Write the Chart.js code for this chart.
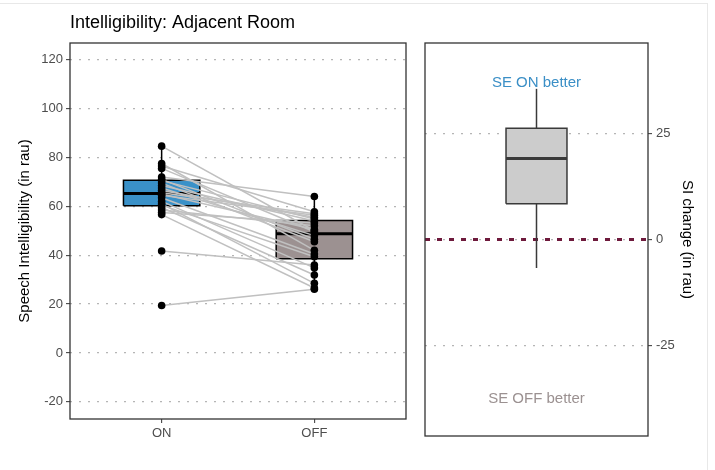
<!DOCTYPE html>
<html>
<head>
<meta charset="utf-8">
<script src="https://cdn.jsdelivr.net/npm/chart.js@4.4.1/dist/chart.umd.min.js"></script>
<style>
  body { margin: 0; background: #fff; }
  #page { position: relative; width: 715px; height: 470px; overflow: hidden; }
  #edge { position: absolute; left: 0; top: 3px; width: 707px; height: 470px; border-top: 1px solid #e8e8e8; border-right: 1px solid #e8e8e8; }
  #left { position: absolute; left: 0; top: 0; width: 412px; height: 470px; }
  #right { position: absolute; left: 412px; top: 0; width: 303px; height: 470px; }
</style>
</head>
<body>
<div id="page">
  <div id="edge"></div>
  <div id="left"><canvas id="c1"></canvas></div>
  <div id="right"><canvas id="c2"></canvas></div>
</div>
<script>
// conditions on the x axis
const groups = ['ON', 'OFF'];
// speech intelligibility per listener (rau), paired by index
const siOn  = [84.6, 77.5, 76.5, 75.5, 72, 71, 70.5, 69.5, 68.5, 67.5, 66.5, 65.5, 65, 64.5, 63.5, 62, 61, 60.5, 59.5, 58.5, 57.5, 56.6, 41.7, 19.4];
const siOff = [50, 42, 57.8, 49.6, 64, 46.5, 54.8, 45.5, 54, 48.0, 55.5, 57, 50.5, 56.3, 40.5, 34.8, 28.5, 39.4, 31.9, 52, 53.2, 26.6, 36, 26.1];
// tick values
const leftTicks = [-20, 0, 20, 40, 60, 80, 100, 120];
const rightTicks = [-25, 0, 25];
// labels inside the right panel
const noteText = ['SE ON better', 'SE OFF better'];
const noteY = [37, -37.5];
const noteColor = ['#3b8fc6', '#9b9191'];

const boxColors = ['#3a91c8', '#9c9191'];
const FONT = '"Liberation Sans", Arial, sans-serif';

function quantile(arr, p) {
  const s = [...arr].sort((a, b) => a - b);
  const h = (s.length - 1) * p;
  const lo = Math.floor(h);
  return s[lo] + (h - lo) * ((s[lo + 1] !== undefined ? s[lo + 1] : s[lo]) - s[lo]);
}
function boxStats(arr) {
  const q1 = quantile(arr, 0.25), med = quantile(arr, 0.5), q3 = quantile(arr, 0.75);
  const iqr = q3 - q1;
  const inside = arr.filter(v => v >= q1 - 1.5 * iqr && v <= q3 + 1.5 * iqr);
  return { q1, med, q3, lo: Math.min(...inside), hi: Math.max(...inside) };
}

// build boxplot datasets (fill, outline, median, whiskers)
function boxDatasets(stats, xc, half, fillColor, lineColor, lw) {
  const x0 = xc - half, x1 = xc + half;
  const base = { type: 'line', showLine: true, pointRadius: 0, tension: 0 };
  return [
    { ...base, data: [{x: x0, y: stats.q3}, {x: x1, y: stats.q3}], borderWidth: 0, borderColor: 'transparent',
      backgroundColor: fillColor, fill: {value: stats.q1}, order: 9 },
    { ...base, data: [{x: xc, y: stats.q3}, {x: xc, y: stats.hi}], borderColor: lineColor, borderWidth: lw, fill: false, order: 8 },
    { ...base, data: [{x: xc, y: stats.q1}, {x: xc, y: stats.lo}], borderColor: lineColor, borderWidth: lw, fill: false, order: 8 },
    { ...base, data: [{x: x0, y: stats.q1}, {x: x0, y: stats.q3}, {x: x1, y: stats.q3}, {x: x1, y: stats.q1}, {x: x0, y: stats.q1}],
      borderColor: lineColor, borderWidth: lw, fill: false, order: 7 },
    { ...base, data: [{x: x0, y: stats.med}, {x: x1, y: stats.med}], borderColor: lineColor, borderWidth: 3, fill: false, order: 6 }
  ];
}

const framePlugin = {
  id: 'frame',
  afterDraw(chart) {
    const a = chart.chartArea, ctx = chart.ctx;
    ctx.save();
    ctx.strokeStyle = '#333';
    ctx.lineWidth = 1.3;
    ctx.strokeRect(a.left, a.top, a.right - a.left, a.bottom - a.top);
    ctx.restore();
  }
};

const tickFont = { family: FONT, size: 13 };
const gridStyle = { color: '#b5b5b5', lineWidth: 1.3, tickColor: '#333', tickLength: 4, tickWidth: 1, tickBorderDash: [] };
const dotted = { display: false, dash: [2, 7] };

// ---------- left panel ----------
const onStats = boxStats(siOn), offStats = boxStats(siOff);
const leftSets = [
  ...boxDatasets(onStats, 1, 0.25, boxColors[0], '#000', 1.5),
  ...boxDatasets(offStats, 2, 0.25, boxColors[1], '#000', 1.5)
];
siOn.forEach((v, i) => {
  leftSets.push({ type: 'line', showLine: true, data: [{x: 1, y: v}, {x: 2, y: siOff[i]}], borderColor: '#c0c0c0',
    borderWidth: 1.5, pointRadius: 0, fill: false, order: 3 });
});
leftSets.push({ type: 'scatter', data: siOn.map(v => ({x: 1, y: v})).concat(siOff.map(v => ({x: 2, y: v}))),
  pointRadius: 3.8, pointBackgroundColor: '#000', pointBorderWidth: 0, order: 1 });

new Chart(document.getElementById('c1'), {
  type: 'scatter',
  data: { datasets: leftSets },
  options: {
    responsive: true, maintainAspectRatio: false, animation: false,
    layout: { padding: { top: 5, left: 0, right: 6, bottom: 0 } },
    plugins: {
      legend: { display: false }, tooltip: { enabled: false },
      title: { display: true, text: 'Intelligibility: Adjacent Room', align: 'start', fullSize: false, color: '#000',
        font: { family: FONT, size: 18, weight: 'normal' }, padding: { top: 7, bottom: 9.4 } }
    },
    scales: {
      x: {
        type: 'linear', min: 0.4, max: 2.6,
        afterBuildTicks: s => { s.ticks = groups.map((g, i) => ({ value: i + 1 })); },
        afterFit: s => { s.height = 51; },
        ticks: { callback: v => groups[v - 1], color: '#4d4d4d', font: tickFont, padding: 3, maxRotation: 0 },
        grid: { ...gridStyle, color: 'rgba(0,0,0,0)' },
        border: { display: false }
      },
      y: {
        min: -27, max: 126.8,
        afterBuildTicks: s => { s.ticks = leftTicks.map(v => ({ value: v })); },
        afterFit: s => { s.width = 70; },
        ticks: { color: '#4d4d4d', font: tickFont, padding: 3 },
        grid: gridStyle,
        border: dotted,
        title: { display: true, text: 'Speech Intelligibility (in rau)', color: '#000', font: { family: FONT, size: 15 }, padding: 16 }
      }
    }
  },
  plugins: [framePlugin]
});

// ---------- right panel ----------
const diffs = siOn.map((v, i) => v - siOff[i]);
const diffStats = boxStats(diffs);
const rightSets = [
  { type: 'line', showLine: true, data: [{x: 0.4, y: 0}, {x: 1.6, y: 0}], borderColor: '#6e1a3c', borderWidth: 3,
    borderDash: [5, 7], pointRadius: 0, fill: false, order: 10 },
  ...boxDatasets(diffStats, 1, 0.164, '#cccccc', '#3a3a3a', 1.5)
];

const notesPlugin = {
  id: 'notes',
  afterDatasetsDraw(chart) {
    const ctx = chart.ctx, xs = chart.scales.x, ys = chart.scales.y;
    ctx.save();
    ctx.font = '15px ' + FONT;
    ctx.textAlign = 'center';
    ctx.textBaseline = 'middle';
    noteText.forEach((t, i) => {
      ctx.fillStyle = noteColor[i];
      ctx.fillText(t, xs.getPixelForValue(1), ys.getPixelForValue(noteY[i]));
    });
    ctx.restore();
  }
};

new Chart(document.getElementById('c2'), {
  type: 'scatter',
  data: { datasets: rightSets },
  options: {
    responsive: true, maintainAspectRatio: false, animation: false,
    layout: { padding: { top: 43, left: 13, right: 15, bottom: 34 } },
    plugins: { legend: { display: false }, tooltip: { enabled: false } },
    scales: {
      x: { type: 'linear', min: 0.4, max: 1.6, display: false },
      y: {
        position: 'right', min: -46.3, max: 46.3,
        afterBuildTicks: s => { s.ticks = rightTicks.map(v => ({ value: v })); },
        afterFit: s => { s.width = 52; },
        ticks: { color: '#4d4d4d', font: tickFont, padding: 4 },
        grid: gridStyle,
        border: dotted,
        title: { display: true, text: 'SI change (in rau)', color: '#000', font: { family: FONT, size: 15 }, padding: 4 }
      }
    }
  },
  plugins: [framePlugin, notesPlugin]
});
</script>
</body>
</html>
